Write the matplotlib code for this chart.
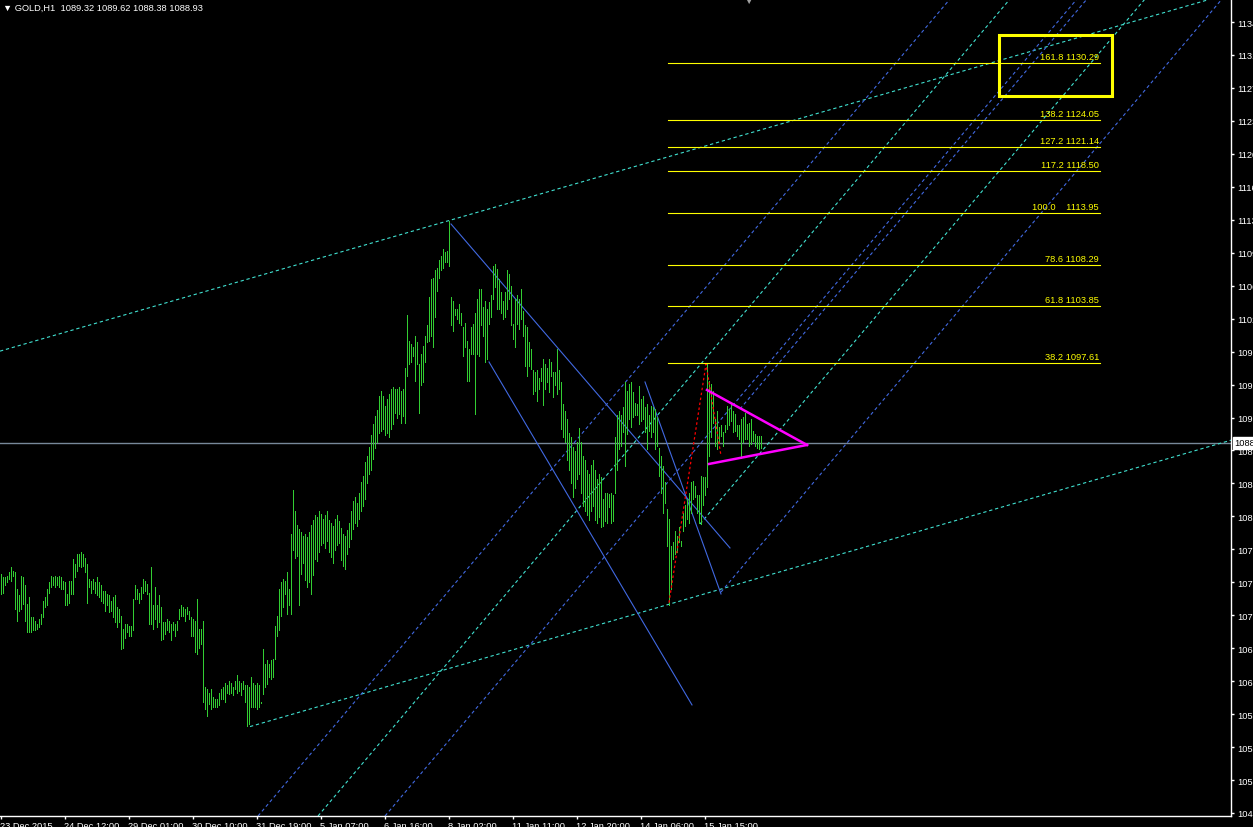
import matplotlib
matplotlib.use("Agg")
import matplotlib.pyplot as plt
from matplotlib.patches import Rectangle
from matplotlib.transforms import blended_transform_factory, ScaledTranslation

# ---- H1 bars (high / low), one per hour ----
highs = [
    1074.6, 1074.3, 1074.3, 1074.4, 1074.8, 1075.4, 1075.0, 1074.8, 1073.0, 1072.3,
    1074.4, 1074.3, 1073.4, 1071.4, 1072.1, 1069.9, 1069.9, 1069.5, 1069.2, 1069.7,
    1070.3, 1071.7, 1072.1, 1073.0, 1073.7, 1074.4, 1074.3, 1074.4, 1074.3, 1074.4,
    1074.3, 1073.9, 1073.7, 1072.4, 1073.9, 1073.9, 1076.3, 1075.7, 1076.8, 1076.8,
    1077.0, 1076.8, 1076.4, 1075.7, 1074.1, 1073.9, 1074.1, 1073.7, 1074.3, 1073.7,
    1073.4, 1072.8, 1072.8, 1072.4, 1072.3, 1071.7, 1072.1, 1072.3, 1071.0, 1070.8,
    1070.1, 1068.6, 1069.2, 1069.2, 1069.0, 1069.0, 1071.9, 1073.4, 1073.0, 1072.6,
    1073.2, 1074.1, 1073.9, 1073.5, 1072.6, 1075.4, 1071.2, 1073.2, 1071.2, 1072.3,
    1071.0, 1069.4, 1069.4, 1069.7, 1069.5, 1069.2, 1069.4, 1069.2, 1069.5, 1070.8,
    1071.2, 1071.0, 1070.8, 1071.0, 1070.6, 1069.9, 1069.7, 1069.5, 1071.9, 1068.6,
    1068.6, 1069.5, 1062.3, 1062.1, 1061.7, 1062.1, 1061.2, 1061.0, 1061.0, 1061.7,
    1062.1, 1062.3, 1062.7, 1062.5, 1063.0, 1062.7, 1062.3, 1063.0, 1063.6, 1063.0,
    1062.8, 1063.0, 1062.5, 1062.5, 1062.3, 1063.4, 1062.8, 1062.5, 1062.7, 1062.5,
    1060.7, 1066.5, 1064.8, 1065.2, 1064.8, 1065.2, 1065.4, 1069.0, 1070.1, 1073.0,
    1073.7, 1074.1, 1073.9, 1074.8, 1073.0, 1079.0, 1083.8, 1081.5, 1080.0, 1079.5,
    1079.2, 1078.8, 1079.0, 1078.6, 1079.2, 1080.0, 1080.5, 1081.0, 1080.8, 1081.5,
    1081.2, 1080.6, 1081.0, 1081.5, 1080.5, 1080.2, 1079.8, 1080.6, 1081.0, 1080.4,
    1079.6, 1079.0, 1078.8, 1079.4, 1080.2, 1081.5, 1082.6, 1083.0, 1082.4, 1083.4,
    1084.6, 1085.3, 1086.8, 1087.5, 1088.5, 1089.8, 1091.0, 1091.8, 1092.5, 1094.0,
    1094.6, 1094.0, 1092.9, 1093.7, 1094.2, 1094.8, 1095.0, 1094.8, 1094.8, 1095.0,
    1094.6, 1094.8, 1097.1, 1102.8, 1100.0, 1099.7, 1099.3, 1100.6, 1099.9, 1097.5,
    1098.6, 1099.5, 1100.6, 1101.7, 1104.8, 1106.8, 1106.9, 1107.7, 1108.0, 1108.8,
    1109.3, 1110.0, 1109.7, 1109.8, 1113.1, 1104.8, 1104.4, 1103.5, 1103.5, 1104.0,
    1103.0, 1101.5, 1102.0, 1100.0, 1099.1, 1101.5, 1101.9, 1103.0, 1104.6, 1105.7,
    1105.7, 1103.7, 1104.4, 1103.5, 1104.2, 1105.0, 1108.2, 1108.4, 1107.8, 1106.8,
    1105.3, 1104.4, 1105.3, 1107.7, 1107.3, 1106.0, 1101.9, 1104.6, 1105.0, 1104.6,
    1105.7, 1103.3, 1101.7, 1101.5, 1099.9, 1099.1, 1096.8, 1096.6, 1096.8, 1096.0,
    1097.1, 1098.0, 1097.5, 1097.1, 1098.0, 1097.7, 1096.6, 1096.6, 1099.1, 1096.8,
    1095.5, 1093.1, 1092.4, 1091.5, 1090.0, 1089.5, 1088.5, 1088.0, 1089.0, 1090.5,
    1089.0, 1087.5, 1087.0, 1086.0, 1085.5, 1086.5, 1087.0, 1086.0, 1085.0, 1085.5,
    1085.2, 1082.8, 1083.5, 1083.5, 1083.3, 1083.5, 1083.2, 1089.5, 1091.9, 1092.4,
    1091.9, 1092.8, 1095.5, 1094.6, 1095.3, 1095.5, 1094.4, 1093.3, 1093.1, 1095.1,
    1093.7, 1094.0, 1092.8, 1093.1, 1091.9, 1092.9, 1092.8, 1092.6, 1091.7, 1088.4,
    1087.5, 1086.4, 1084.6, 1081.7, 1080.6, 1077.7, 1078.1, 1079.3, 1078.8, 1079.7,
    1078.2, 1081.3, 1082.1, 1082.8, 1083.5, 1084.6, 1084.8, 1084.2, 1083.2, 1083.2,
    1085.3, 1085.2, 1085.2, 1097.5, 1095.7, 1095.3, 1094.6, 1091.5, 1092.4, 1090.6,
    1090.8, 1090.1, 1090.8, 1092.9, 1092.6, 1093.1, 1092.4, 1092.0, 1090.8, 1090.8,
    1091.5, 1091.7, 1092.2, 1091.0, 1091.1, 1091.5, 1090.2, 1089.9, 1089.7, 1089.7,
    1089.62,
]
lows = [
    1072.4, 1072.6, 1073.4, 1073.7, 1074.1, 1073.9, 1074.4, 1070.8, 1069.5, 1070.6,
    1070.8, 1071.4, 1069.5, 1068.3, 1068.3, 1068.3, 1068.5, 1068.5, 1068.6, 1068.8,
    1069.2, 1069.9, 1071.0, 1071.2, 1072.6, 1073.2, 1073.4, 1073.2, 1073.4, 1073.2,
    1073.0, 1073.0, 1071.2, 1071.2, 1071.5, 1072.4, 1072.4, 1074.3, 1075.0, 1075.5,
    1075.4, 1075.5, 1074.8, 1071.5, 1073.2, 1072.6, 1073.0, 1072.6, 1072.3, 1072.1,
    1071.7, 1071.5, 1070.6, 1071.2, 1070.5, 1070.6, 1069.9, 1069.4, 1068.8, 1069.4,
    1066.5, 1066.6, 1067.7, 1068.3, 1067.9, 1067.9, 1068.5, 1071.9, 1071.9, 1071.5,
    1071.9, 1072.6, 1072.8, 1072.4, 1069.2, 1069.2, 1068.6, 1069.7, 1068.8, 1069.4,
    1067.4, 1067.5, 1068.1, 1068.5, 1068.3, 1067.4, 1068.5, 1067.9, 1068.5, 1069.7,
    1070.1, 1070.1, 1069.5, 1070.3, 1069.7, 1067.9, 1067.9, 1066.1, 1065.9, 1066.6,
    1067.0, 1060.7, 1059.9, 1059.2, 1060.5, 1059.9, 1060.1, 1060.1, 1060.1, 1060.3,
    1061.0, 1061.0, 1060.7, 1061.7, 1061.6, 1061.7, 1061.4, 1062.1, 1061.7, 1061.9,
    1061.4, 1062.1, 1060.7, 1058.1, 1058.3, 1060.1, 1060.1, 1060.1, 1059.9, 1060.1,
    1060.6, 1061.6, 1062.3, 1062.6, 1063.4, 1063.2, 1063.4, 1065.4, 1067.9, 1068.5,
    1070.1, 1071.0, 1072.4, 1070.3, 1071.2, 1070.3, 1077.2, 1076.4, 1076.6, 1071.2,
    1074.6, 1075.8, 1074.0, 1073.2, 1073.7, 1072.4, 1074.5, 1076.3, 1076.0, 1077.0,
    1077.8, 1078.0, 1077.5, 1078.2, 1077.0, 1076.5, 1075.8, 1077.2, 1077.8, 1078.0,
    1076.2, 1075.5, 1075.2, 1076.8, 1077.6, 1078.4, 1079.5, 1080.2, 1079.8, 1080.6,
    1081.5, 1082.0, 1082.8, 1084.5, 1085.5, 1086.0, 1087.2, 1088.4, 1089.0, 1090.0,
    1090.2, 1090.4, 1089.8, 1090.0, 1089.6, 1090.4, 1091.0, 1092.2, 1091.6, 1092.0,
    1091.1, 1091.8, 1091.1, 1096.2, 1097.5, 1097.7, 1098.4, 1095.7, 1097.5, 1092.2,
    1095.2, 1095.5, 1097.7, 1099.9, 1100.0, 1100.6, 1099.3, 1102.6, 1105.5, 1106.9,
    1107.7, 1108.0, 1108.6, 1108.6, 1108.2, 1101.7, 1101.1, 1102.8, 1102.4, 1102.0,
    1101.7, 1098.4, 1099.3, 1095.7, 1095.7, 1098.6, 1098.6, 1092.1, 1098.6, 1098.4,
    1101.7, 1100.6, 1097.7, 1098.0, 1101.9, 1102.6, 1104.6, 1105.9, 1103.5, 1103.5,
    1103.1, 1102.4, 1102.6, 1103.5, 1104.6, 1101.7, 1100.2, 1099.3, 1101.9, 1101.3,
    1102.4, 1100.6, 1097.3, 1096.2, 1097.3, 1097.0, 1094.2, 1094.6, 1093.5, 1094.8,
    1095.7, 1093.0, 1094.8, 1095.5, 1094.4, 1096.2, 1093.9, 1095.2, 1094.2, 1094.8,
    1090.4, 1089.5, 1089.0, 1087.0, 1086.0, 1084.5, 1083.0, 1084.0, 1085.0, 1085.5,
    1083.5, 1082.0, 1081.5, 1081.0, 1080.5, 1081.5, 1082.0, 1080.5, 1080.2, 1080.8,
    1079.7, 1079.9, 1080.4, 1080.2, 1081.9, 1080.2, 1080.4, 1083.5, 1085.9, 1088.2,
    1088.6, 1090.1, 1086.4, 1089.9, 1091.5, 1090.6, 1091.7, 1091.9, 1091.9, 1091.0,
    1091.3, 1091.5, 1090.1, 1088.2, 1090.2, 1089.5, 1090.1, 1088.2, 1088.6, 1085.3,
    1083.5, 1081.3, 1082.4, 1077.7, 1071.2, 1073.0, 1076.3, 1076.8, 1077.0, 1078.1,
    1077.7, 1079.3, 1079.9, 1080.6, 1080.2, 1081.3, 1082.8, 1083.0, 1081.3, 1080.2,
    1080.1, 1082.1, 1083.2, 1084.1, 1087.5, 1089.5, 1091.1, 1088.6, 1088.2, 1089.0,
    1089.7, 1088.6, 1090.1, 1090.4, 1090.8, 1091.3, 1090.1, 1090.2, 1089.7, 1089.3,
    1087.3, 1089.0, 1089.3, 1089.3, 1088.6, 1088.8, 1089.1, 1088.6, 1088.4, 1088.2,
    1088.38,
]

# x axis: one tick every 32 bars
time_labels = ["23 Dec 2015", "24 Dec 12:00", "29 Dec 01:00", "30 Dec 10:00",
               "31 Dec 19:00", "5 Jan 07:00", "6 Jan 16:00", "8 Jan 02:00",
               "11 Jan 11:00", "12 Jan 20:00", "14 Jan 06:00", "15 Jan 15:00"]
price_ticks = [1134.75, 1131.16, 1127.57, 1123.98, 1120.39, 1116.80, 1113.21,
               1109.62, 1106.03, 1102.44, 1098.85, 1095.26, 1091.67, 1088.08,
               1084.49, 1080.90, 1077.31, 1073.72, 1070.13, 1066.54, 1062.95,
               1059.36, 1055.77, 1052.18, 1048.59]

last_price = 1088.93
header = "GOLD,H1  1089.32 1089.62 1088.38 1088.93"

# fibo expansion levels
fib_ratios = ["161.8", "138.2", "127.2", "117.2", "100.0", "78.6", "61.8", "38.2"]
fib_prices = [1130.29, 1124.05, 1121.14, 1118.50, 1113.95, 1108.29, 1103.85, 1097.61]
fib_span = (333.5, 549.5)

# drawn objects: ((bar, price), (bar, price))
channel_upper = [(-0.5, 1098.9), (615.0, 1137.9)]
channel_lower = [(124.5, 1058.0), (615.0, 1089.2)]
blue_solid = [
    [(225.0, 1112.75), (364.5, 1077.46)],
    [(244.0, 1097.72), (345.5, 1060.36)],
    [(322.0, 1095.54), (360.0, 1072.45)],
]
blue_dashed = [
    [(128.5, 1048.26), (474.5, 1137.26)],
    [(192.0, 1048.26), (538.0, 1137.26)],
    [(369.5, 1092.60), (543.0, 1137.26)],
    [(360.0, 1072.66), (610.5, 1137.26)],
]
cyan_dashed = [
    [(158.5, 1048.26), (504.5, 1137.26)],
    [(349.5, 1080.07), (572.0, 1137.26)],
]
zigzag = [(334.0, 1071.5), (352.5, 1097.5), (360.0, 1087.5)]
triangle_top = [(353.0, 1094.67), (403.0, 1088.68)]
triangle_bottom = [(354.0, 1086.61), (403.0, 1088.68)]
target_box = (499.0, 1126.69, 56.5, 6.65)

BAR = "#32CD32"
CYAN = "#40E0D0"
BLUE = "#4169E1"
YEL = "#FFFF00"
FONT = ["Liberation Sans", "DejaVu Sans"]
FS = 6.7

plt.rcParams["font.family"] = FONT

fig = plt.figure(figsize=(12.53, 8.28), dpi=100, facecolor="black")
ax = fig.add_axes([0, 11 / 828, 1231 / 1253, 817 / 828], facecolor="black")

n = min(len(highs), len(lows))
ax.vlines(range(n), lows[:n], highs[:n], color=BAR, lw=0.5, antialiased=False, zorder=3)

ax.axhline(last_price, color="#778899", lw=1.0, zorder=2)

dash = (0, (3, 2.5))
for pts in [channel_upper, channel_lower] + cyan_dashed:
    ax.plot([p[0] for p in pts], [p[1] for p in pts], color=CYAN, lw=0.8, ls=dash, zorder=2)
for pts in blue_dashed:
    ax.plot([p[0] for p in pts], [p[1] for p in pts], color=BLUE, lw=0.8, ls=dash, zorder=2)
for pts in blue_solid:
    ax.plot([p[0] for p in pts], [p[1] for p in pts], color=BLUE, lw=0.8, zorder=2)

ax.plot([p[0] for p in zigzag], [p[1] for p in zigzag], color="red", lw=0.9,
        ls=(0, (2, 2)), zorder=4)
for pts in [triangle_top, triangle_bottom]:
    ax.plot([p[0] for p in pts], [p[1] for p in pts], color="#FF00FF", lw=1.8, zorder=5)

for ratio, price in zip(fib_ratios, fib_prices):
    ax.plot(fib_span, [price, price], color=YEL, lw=0.8, zorder=4)
    sep = "    " if ratio == "100.0" else " "
    ax.text(fib_span[1] - 0.5, price + 0.2, f"{ratio}{sep}{price:.2f}", color=YEL,
            fontsize=FS, ha="right", va="bottom", zorder=6)

bx, by, bw, bh = target_box
ax.add_patch(Rectangle((bx, by), bw, bh, fill=False, edgecolor=YEL, lw=2.2, zorder=6))

ax.set_xlim(-0.5, 615)
ax.set_ylim(1048.26, 1137.26)

ax.set_xticks([32 * k for k in range(len(time_labels))])
ax.set_xticklabels(time_labels, ha="left")
ax.tick_params(axis="x", colors="white", labelsize=FS, length=2, width=1, pad=1.5)
shift = ScaledTranslation(-1.5 / 100, 0, fig.dpi_scale_trans)
for lab in ax.get_xticklabels():
    lab.set_transform(lab.get_transform() + shift)

ax.yaxis.tick_right()
ax.set_yticks(price_ticks)
ax.set_yticklabels([f"{v:.2f}" for v in price_ticks])
ax.tick_params(axis="y", colors="white", labelsize=FS, length=2.5, width=1, pad=2)

for side in ["left", "top"]:
    ax.spines[side].set_visible(False)
for side in ["right", "bottom"]:
    ax.spines[side].set_color("white")
    ax.spines[side].set_linewidth(1.0)

# current price tag on the axis
trans = blended_transform_factory(ax.transAxes, ax.transData)
ax.text(1.003, last_price, f"{last_price:.2f}", transform=trans, fontsize=FS,
        color="black", ha="left", va="center", zorder=10, clip_on=False,
        bbox=dict(boxstyle="square,pad=0.15", fc="white", ec="white"))

fig.text(3 / 1253, 1 - 8 / 828, "\u25bc " + header, color="white", fontsize=FS,
         ha="left", va="center", family=FONT)
fig.text(748 / 1253, 1 - 2 / 828, "\u25bc", color="#A0A0A0", fontsize=6,
         ha="center", va="center", family=FONT)

fig.savefig("out.png", dpi=100, facecolor="black")
